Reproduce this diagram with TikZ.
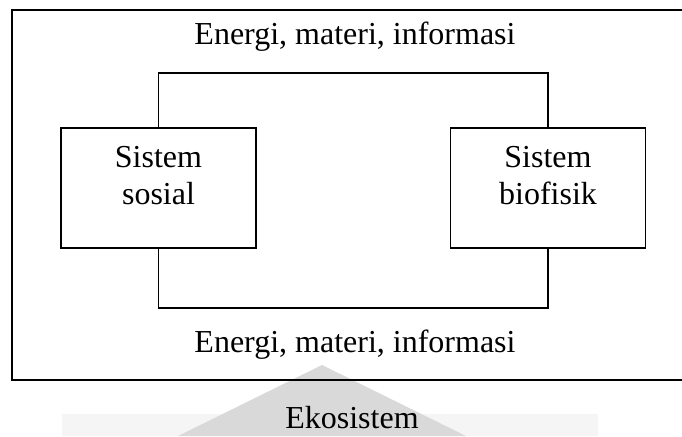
\documentclass[tikz,border=0pt]{standalone}
\usepackage{fontspec}
\setmainfont{Liberation Serif}
\begin{document}
\begin{tikzpicture}[x=1pt,y=1pt,
  frame/.style={draw=black, line width=1.7pt},
  sysbox/.style={draw=black, line width=1.7pt, minimum width=195pt, minimum height=120pt, inner sep=0pt},
  txt/.style={font=\fontsize{32}{37}\selectfont, inner sep=0pt, align=center},
  link/.style={draw=black, line width=1.7pt}]
\clip (0,0) rectangle (682,436);
% faint watermark
\fill[black!4] (62,0) rectangle (598,22);
\fill[black!15] (178,0) -- (322,71) -- (466,0) -- cycle;
% outer ecosystem frame
\draw[frame] (12,56) rectangle (692,426);
% system boxes
\node[sysbox] (sos) at (158.5,248) {};
\node[sysbox] (bio) at (548,248) {};
\node[txt] (sostxt) at ([yshift=12pt]sos.center) {Sistem\\sosial};
\node[txt] (biotxt) at ([yshift=12pt]bio.center) {Sistem\\biofisik};
% loop connectors
\coordinate (looptop) at (353,363);
\coordinate (loopbot) at (353,128);
\draw[link] (sos) |- (looptop) -| (bio);
\draw[link] (sos) |- (loopbot) -| (bio);
% labels
\node[txt, anchor=base] (toplab) at (355,391) {Energi, materi, informasi};
\node[txt, anchor=base] (botlab) at (355,83) {Energi, materi, informasi};
\node[txt, anchor=base] (eko) at (352,8) {Ekosistem};
\end{tikzpicture}
\end{document}
